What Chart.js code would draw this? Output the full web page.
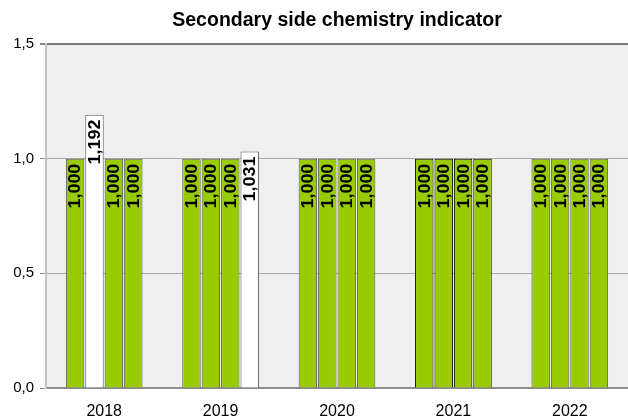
<!DOCTYPE html>
<html>
<head>
    <title>Secondary side chemistry indicator</title>
    <script src="https://cdn.jsdelivr.net/npm/chart.js"></script>
    <style>
        body { margin: 0; background: #fff; }
    </style>
</head>
<body>
    <canvas id="chemChart" width="628" height="416"></canvas>

    <script>
        // values
        const years = ['2018', '2019', '2020', '2021', '2022'];
        const bar1 = [1.000, 1.000, 1.000, 1.000, 1.000];
        const bar2 = [1.192, 1.000, 1.000, 1.000, 1.000];
        const bar3 = [1.000, 1.000, 1.000, 1.000, 1.000];
        const bar4 = [1.000, 1.031, 1.000, 1.000, 1.000];
        const yTicks = [0, 0.5, 1.0, 1.5];
        const chartTitle = 'Secondary side chemistry indicator';

        const fontFamily = '"Liberation Sans", Arial, sans-serif';

        function fmt(v, digits) {
            return v.toFixed(digits).replace('.', ',');
        }

        // white bar when above 1, green otherwise
        function barFill(ctx) {
            return ctx.raw > 1 ? '#ffffff' : '#99cc00';
        }
        function barEdge(ctx) {
            return ctx.dataIndex === 3 ? '#000000' : '#5a5a5a';
        }

        const plotBackground = {
            id: 'plotBackground',
            beforeDraw(chart) {
                const { ctx, chartArea: a } = chart;
                ctx.save();
                ctx.fillStyle = '#efefef';
                ctx.fillRect(a.left, a.top, a.right - a.left, a.bottom - a.top);
                ctx.restore();
            }
        };

        const titleText = {
            id: 'titleText',
            afterDraw(chart) {
                const { ctx, chartArea: a } = chart;
                ctx.save();
                ctx.font = 'bold 19.5px ' + fontFamily;
                ctx.fillStyle = '#000';
                ctx.textAlign = 'center';
                ctx.textBaseline = 'middle';
                ctx.fillText(chartTitle, (a.left + a.right) / 2, 21);
                ctx.restore();
            }
        };

        // rotated value labels at the top inside each bar
        const barLabels = {
            id: 'barLabels',
            afterDatasetsDraw(chart) {
                const ctx = chart.ctx;
                ctx.save();
                ctx.font = 'bold 16px ' + fontFamily;
                ctx.fillStyle = '#000';
                chart.data.datasets.forEach((ds, i) => {
                    chart.getDatasetMeta(i).data.forEach((el, j) => {
                        ctx.save();
                        ctx.translate(el.x + 1, el.y + 5);
                        ctx.rotate(-Math.PI / 2);
                        ctx.scale(1.12, 1);
                        ctx.textAlign = 'right';
                        ctx.textBaseline = 'middle';
                        ctx.fillText(fmt(ds.data[j], 3), 0, 0);
                        ctx.restore();
                    });
                });
                ctx.restore();
            }
        };

        const seriesList = [bar1, bar2, bar3, bar4];

        new Chart(document.getElementById('chemChart'), {
            type: 'bar',
            data: {
                labels: years,
                datasets: seriesList.map((vals, i) => ({
                    label: 'Unit ' + (i + 1),
                    data: vals,
                    backgroundColor: barFill,
                    borderColor: barEdge,
                    borderWidth: 1,
                    categoryPercentage: 0.667,
                    barPercentage: 0.95
                }))
            },
            options: {
                responsive: false,
                animation: false,
                layout: { padding: { top: 44, left: 0, right: 0, bottom: 0 } },
                plugins: {
                    legend: { display: false },
                    title: { display: false },
                    tooltip: { enabled: false }
                },
                scales: {
                    x: {
                        grid: { display: false, drawTicks: false },
                        border: { color: '#8c8c8c', width: 2 },
                        ticks: {
                            color: '#000',
                            padding: 14,
                            font: { family: fontFamily, size: 16 }
                        },
                        afterFit(scale) { scale.height = 28; }
                    },
                    y: {
                        min: 0,
                        max: 1.5,
                        afterBuildTicks(scale) {
                            scale.ticks = yTicks.map(v => ({ value: v }));
                        },
                        grid: {
                            color: ctx => ctx.tick && ctx.tick.value === 1.5 ? '#7a7a7a' : '#a8a8a8',
                            lineWidth: ctx => ctx.tick && ctx.tick.value === 1.5 ? 2 : 1,
                            tickLength: 6,
                            tickColor: '#8c8c8c'
                        },
                        border: { color: '#c4c4c4', width: 2 },
                        ticks: {
                            color: '#000',
                            padding: 6,
                            font: { family: fontFamily, size: 15 },
                            callback: v => fmt(v, 1)
                        },
                        afterFit(scale) { scale.width = 46; }
                    }
                }
            },
            plugins: [plotBackground, titleText, barLabels]
        });
    </script>
</body>
</html>
